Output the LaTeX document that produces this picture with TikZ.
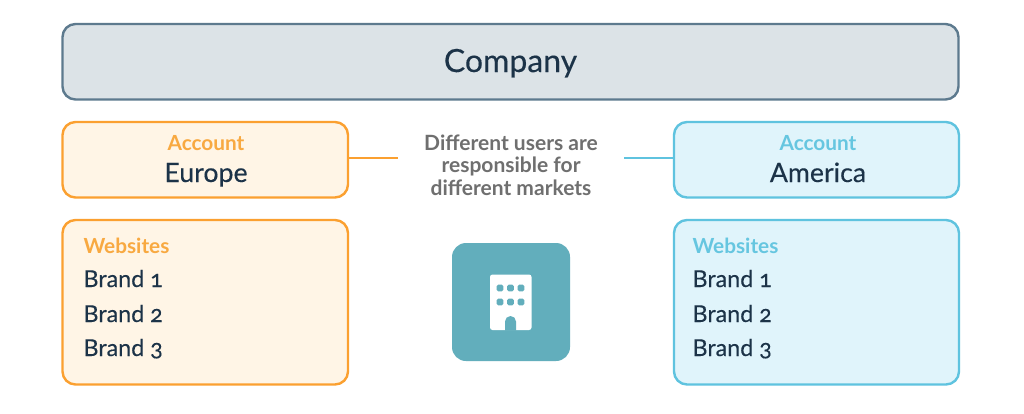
\documentclass[tikz,border=0pt]{standalone}
\usepackage{fontspec}
\setmainfont[Numbers=OldStyle]{Lato}
\newfontfamily\medfont[FakeBold=0.25,Numbers=OldStyle]{Lato}
\definecolor{navy}{HTML}{1C3348}
\definecolor{orangeline}{HTML}{FBA030}
\definecolor{orangefill}{HTML}{FFF5E6}
\definecolor{orangetext}{HTML}{F8A941}
\definecolor{blueline}{HTML}{5FC3DF}
\definecolor{bluefill}{HTML}{E0F4FB}
\definecolor{bluetext}{HTML}{66C6E0}
\definecolor{slateline}{HTML}{5D7A8E}
\definecolor{slatefill}{HTML}{DCE3E7}
\definecolor{tealbox}{HTML}{62AEBC}
\definecolor{greytext}{HTML}{6F6F6F}
\tikzset{
  x=1pt,y=-1pt,
  panel/.style={rounded corners=13pt,line width=2.4pt,inner sep=0pt,outer sep=0pt,anchor=north west},
  orangepanel/.style={panel,draw=orangeline,fill=orangefill},
  bluepanel/.style={panel,draw=blueline,fill=bluefill},
  head/.style={font=\bfseries\fontsize{20.8}{22}\selectfont,anchor=base},
  main/.style={font=\medfont\fontsize{26.7}{28}\selectfont,text=navy,anchor=base},
  item/.style={font=\medfont\fontsize{23.3}{24}\selectfont,text=navy,anchor=base west},
  link/.style={line width=2pt},
}
\begin{document}
\begin{tikzpicture}
\useasboundingbox (0,0) rectangle (1024,413);
\fill[white] (0,0) rectangle (1024,413);
\node[panel,draw=slateline,fill=slatefill,minimum width=896pt,minimum height=75.5pt] (company) at (62.5,24) {};
\node[font=\medfont\fontsize{32}{34}\selectfont,text=navy,anchor=base] (companyt) at (510.5,72) {Company};

\node[orangepanel,minimum width=285.5pt,minimum height=75.5pt] (acce) at (62.5,122) {};
\node[head,text=orangetext] (accet) at (206,150) {Account};
\node[main] (eur) at (206,182) {Europe};
\node[bluepanel,minimum width=285pt,minimum height=75.5pt] (acca) at (674,122) {};
\node[head,text=bluetext] (accat) at (818,150) {Account};
\node[main] (ame) at (818,182) {America};

\node[orangepanel,minimum width=285.5pt,minimum height=164.5pt] (webe) at (62.5,220) {};
\node[head,text=orangetext,anchor=base west] (webet) at (80,253) {Websites};
\node[item] (e1) at (80,287) {Brand 1};
\node[item] (e2) at (80,322) {Brand 2};
\node[item] (e3) at (80,356) {Brand 3};
\node[bluepanel,minimum width=285pt,minimum height=164.5pt] (weba) at (674,220) {};
\node[head,text=bluetext,anchor=base west] (webat) at (689,253) {Websites};
\node[item] (a1) at (689,287) {Brand 1};
\node[item] (a2) at (689,322) {Brand 2};
\node[item] (a3) at (689,356) {Brand 3};

\node[font=\bfseries\fontsize{21}{22.5}\selectfont,text=greytext,align=center,anchor=center] (mid) at (511,165) {Different users are\\responsible for\\different markets};
\coordinate (ml) at (397.5,158);
\coordinate (mr) at (624,158);
\draw[link,orangeline] (acce.east |- ml) -- (ml);
\draw[link,blueline] (mr) -- (acca.west |- mr);

\node[fill=tealbox,rounded corners=14pt,minimum size=118pt,inner sep=0pt,outer sep=0pt,anchor=north west] (icon) at (452,243) {};
\fill[white,rounded corners=2.5pt] (490,274.5) rectangle (531.5,330);
\fill[tealbox] (505,330.5) -- (505,321.5) arc[start angle=180,end angle=0,radius=5.5pt] -- (516,330.5) -- cycle;
\foreach \cx in {500,510.5,521}\foreach \cy in {288,302}
  \fill[tealbox,rounded corners=1.5pt] (\cx-3.3,\cy-3.3) rectangle (\cx+3.3,\cy+3.3);
\end{tikzpicture}
\end{document}
